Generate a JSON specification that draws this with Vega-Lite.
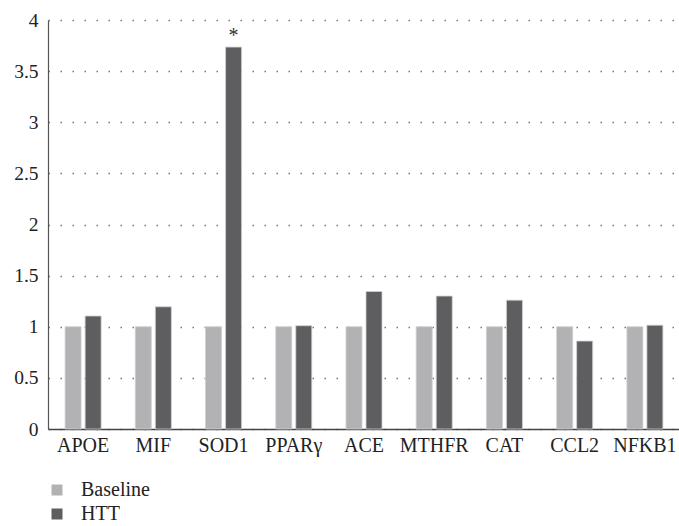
{
  "$schema": "https://vega.github.io/schema/vega-lite/v6.json",
  "width": 632,
  "height": 409,
  "padding": {"left": 48, "top": 20, "right": 0, "bottom": 97},
  "autosize": {"type": "none"},
  "background": "white",
  "config": {
    "font": "Liberation Serif",
    "view": {"stroke": null},
    "axis": {"labelFont": "Liberation Serif", "labelColor": "#222", "ticks": false},
    "legend": {"labelFont": "Liberation Serif"},
    "text": {"font": "Liberation Serif"}
  },
  "data": {
    "values": [
      {"gene": "APOE", "group": "Baseline", "value": 1.0},
      {"gene": "APOE", "group": "HTT", "value": 1.105},
      {"gene": "MIF", "group": "Baseline", "value": 1.0},
      {"gene": "MIF", "group": "HTT", "value": 1.195},
      {"gene": "SOD1", "group": "Baseline", "value": 1.0},
      {"gene": "SOD1", "group": "HTT", "value": 3.735},
      {"gene": "PPARγ", "group": "Baseline", "value": 1.0},
      {"gene": "PPARγ", "group": "HTT", "value": 1.01},
      {"gene": "ACE", "group": "Baseline", "value": 1.0},
      {"gene": "ACE", "group": "HTT", "value": 1.345},
      {"gene": "MTHFR", "group": "Baseline", "value": 1.0},
      {"gene": "MTHFR", "group": "HTT", "value": 1.3},
      {"gene": "CAT", "group": "Baseline", "value": 1.0},
      {"gene": "CAT", "group": "HTT", "value": 1.26},
      {"gene": "CCL2", "group": "Baseline", "value": 1.0},
      {"gene": "CCL2", "group": "HTT", "value": 0.86},
      {"gene": "NFKB1", "group": "Baseline", "value": 1.0},
      {"gene": "NFKB1", "group": "HTT", "value": 1.015}
    ]
  },
  "encoding": {
    "x": {
      "field": "gene", "type": "nominal", "sort": null,
      "scale": {"paddingInner": 0.487, "paddingOuter": 0.2435},
      "axis": {"title": null, "labelAngle": 0, "labelFontSize": 20, "labelPadding": 6,
               "domainColor": "#444", "domainWidth": 1.5}
    },
    "xOffset": {"field": "group", "type": "nominal", "scale": {"paddingInner": 0.2, "paddingOuter": 0}},
    "y": {
      "field": "value", "type": "quantitative",
      "scale": {"domain": [0, 4]},
      "axis": {"title": null, "values": [0, 0.5, 1, 1.5, 2, 2.5, 3, 3.5, 4], "format": "~g", "labelFontSize": 19.5,
               "labelPadding": 10, "domainColor": "#555", "domainWidth": 1.2,
               "grid": true, "gridColor": "#777", "gridDash": [1.5, 10.5], "gridWidth": 1.3}
    }
  },
  "layer": [
    {
      "mark": {"type": "bar", "stroke": "#cfcfd0", "strokeWidth": 0.8},
      "encoding": {
        "color": {
          "field": "group", "type": "nominal",
          "scale": {"domain": ["Baseline", "HTT"], "range": ["#b2b2b4", "#5e5e60"]},
          "legend": {"title": null, "orient": "none", "legendX": -1, "legendY": 460,
                     "direction": "vertical", "symbolType": "square", "symbolSize": 121,
                     "symbolStrokeWidth": 0, "labelFontSize": 20, "labelColor": "#222",
                     "rowPadding": 4, "labelOffset": 14}
        }
      }
    },
    {
      "transform": [{"filter": "datum.gene === 'SOD1' && datum.group === 'HTT'"}],
      "mark": {"type": "text", "text": "*", "fontSize": 20, "baseline": "bottom", "dy": -1, "color": "#333"}
    }
  ]
}
